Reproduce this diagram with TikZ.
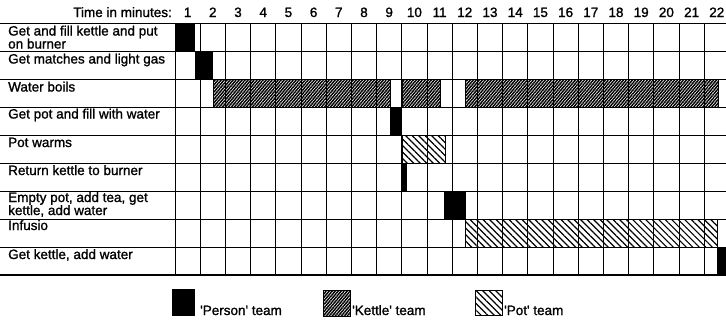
\documentclass[tikz,border=0pt]{standalone}
\usepackage{fontspec}
\setmainfont{Liberation Sans}
\newfontfamily\semibf[FakeBold=1.2]{Liberation Sans}
\usetikzlibrary{patterns.meta}
\begin{document}
\begin{tikzpicture}[x=1pt,y=-1pt,
  gridline/.style={line width=1pt},
  txt/.style={inner sep=0pt, font=\semibf\fontsize{13.5}{13}\selectfont},
  lbl/.style={txt, anchor=base west},
  num/.style={txt, anchor=base},
  person/.style={fill=black},
  kettle/.style={draw=black, line width=0.8pt, pattern={Lines[angle=50,distance=2.3pt,line width=1.5pt]}},
  pot/.style={draw=black, line width=0.8pt, pattern={Lines[angle=-45,distance=4.6pt,line width=1.2pt]}},
]
\useasboundingbox (0,0) rectangle (726,322);
\fill[white] (0,0) rectangle (726,322);
% grid
\foreach \r in {0,...,8} { \draw[gridline] (0,{23+28*\r}) -- (726,{23+28*\r}); }
\draw[line width=1.6pt] (0,275) -- (726,275);
\foreach \k in {0,...,21} { \draw[gridline] ({175+25.2*\k},23) -- ({175+25.2*\k},275); }
% header
\node[txt, anchor=base east] (title) at (172,17) {Time in minutes:};
\foreach \k in {1,...,22} { \node[num] (n\k) at ({175+25.2*(\k-0.5)},17) {\k}; }
% row labels
\node[lbl] (l1a) at (8,35.5) {Get and fill kettle and put};
\node[lbl] (l1b) at (8,48.5) {on burner};
\node[lbl] (l2) at (8,63.5) {Get matches and light gas};
\node[lbl] (l3) at (8,91.5) {Water boils};
\node[lbl] (l4) at (8,118.5) {Get pot and fill with water};
\node[lbl] (l5) at (8,147) {Pot warms};
\node[lbl] (l6) at (8,175) {Return kettle to burner};
\node[lbl] (l7a) at (8,202) {Empty pot, add tea, get};
\node[lbl] (l7b) at (8,215) {kettle, add water};
\node[lbl] (l8) at (8,230) {Infusio};
\node[lbl] (l9) at (8,259) {Get kettle, add water};
% bars
\fill[person] (175,23) rectangle (195,51);
\fill[person] (195,51) rectangle (213,79);
\path[kettle] (213,79) rectangle (390,107);
\path[kettle] (402,79) rectangle (440.5,107);
\path[kettle] (465.5,79) rectangle (718,107);
\fill[person] (390,107) rectangle (402,135);
\path[pot] (402,135) rectangle (445,163);
\fill[person] (401.5,163) rectangle (407,191);
\fill[person] (444,191) rectangle (465.5,219);
\path[pot] (465.5,219) rectangle (717.5,247);
\fill[person] (717,247) rectangle (730,275);
% legend
\fill[person] (172,289) rectangle (195,316);
\node[lbl] (lg1) at (200,315) {'Person' team};
\path[kettle] (323.5,290) rectangle (350,316);
\node[lbl] (lg2) at (352,315) {'Kettle' team};
\path[pot] (475.5,290) rectangle (502,315.5);
\node[lbl] (lg3) at (504,315) {'Pot' team};
\end{tikzpicture}
\end{document}
